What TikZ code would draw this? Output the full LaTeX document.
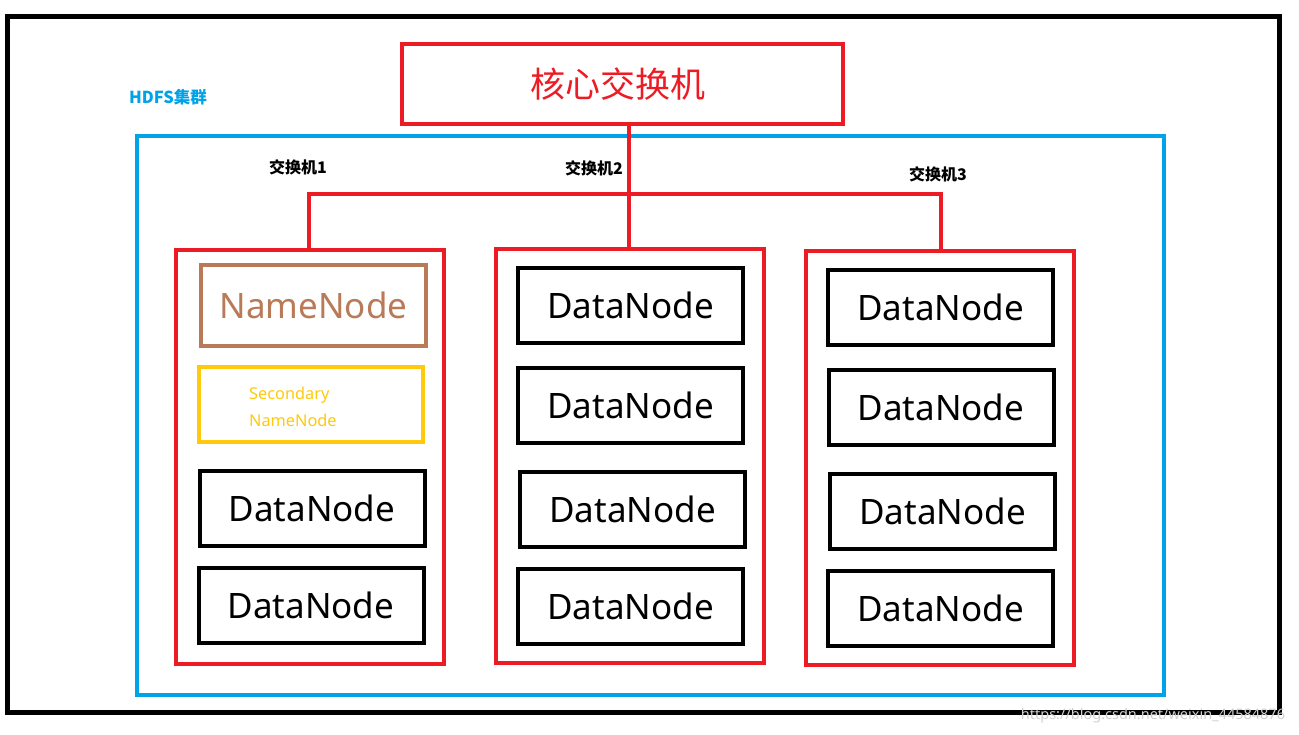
\documentclass[tikz,border=0pt]{standalone}
\usepackage{fontspec}
\setmainfont{Noto Sans}
\newfontfamily\cjk{Noto Sans CJK SC}
\definecolor{pred}{HTML}{ED1C24}
\definecolor{pblue}{HTML}{00A2E8}
\definecolor{pbrown}{HTML}{B97A57}
\definecolor{pyellow}{HTML}{FFC90E}
\tikzset{
  box/.style={draw, line width=4pt, inner sep=0pt, fill=white},
  grp/.style={box, draw=pred, minimum width=268pt, minimum height=414pt},
  dn/.style={box, draw=black, minimum width=225pt, minimum height=75pt, font=\fontsize{35}{40}\selectfont},
  swlabel/.style={font=\cjk\bfseries\fontsize{16}{19}\selectfont, inner sep=0pt},
  link/.style={draw=pred, line width=4pt},
}
\begin{document}
\begin{tikzpicture}[x=1pt,y=-1pt]
\useasboundingbox (0,0) rectangle (1299,734);
\fill[white] (0,0) rectangle (1299,734);
% outer frame
\node[box, draw=black, line width=5pt, fill=none, minimum width=1272pt, minimum height=696pt] (outer) at (643.5,364.5) {};
% cluster
\node[box, draw=pblue, fill=none, minimum width=1027pt, minimum height=559pt] (cluster) at (650.5,415.5) {};
\node[font=\cjk\bfseries\fontsize{16.5}{19}\selectfont, text=pblue, inner sep=0pt] (hdfs) at (168,97) {HDFS集群};
% core switch
\node[box, draw=pred, minimum width=441pt, minimum height=80pt, text=pred, font=\cjk\fontsize{35}{40}\selectfont, text width=441pt, align=center, xshift=0pt] (core) at (622.5,84) {\hspace*{-10pt}核心交换机};
% groups
\node[grp] (g1) at (310,457) {};
\node[grp] (g2) at (630,456) {};
\node[grp] (g3) at (940,457.5) {};
% switch labels
\node[swlabel] (sw1) at (298,167) {交换机1};
\node[swlabel] (sw2) at (594,168) {交换机2};
\node[swlabel] (sw3) at (938,174) {交换机3};
% connectors
\coordinate (t1) at (309,194);
\coordinate (t2) at (629,194);
\coordinate (t3) at (941,194);
\draw[link] (core.south -| t2) -- (g2.north -| t2);
\draw[link] (g1.north -| t1) -- (t1) -- (t3) -- (g3.north -| t3);
% left group
\node[box, draw=pbrown, minimum width=225pt, minimum height=81pt, text=pbrown, font=\fontsize{35}{40}\selectfont] (nn) at (313.5,305.5) {NameNode};
\node[box, draw=pyellow, minimum width=224pt, minimum height=75pt] (snn) at (311,404.5) {};
\node[text=pyellow, font=\fontsize{16.3}{27}\selectfont, align=left, anchor=west, inner sep=0pt] (snnt) at (249,407) {Secondary\\NameNode};
\node[dn] (d11) at (312,508) {DataNode};
\node[dn] (d12) at (311,605) {DataNode};
% middle group
\node[dn] (d21) at (630.5,305) {DataNode};
\node[dn] (d22) at (630.5,405.5) {DataNode};
\node[dn] (d23) at (632.5,509.5) {DataNode};
\node[dn] (d24) at (630.5,606) {DataNode};
% right group
\node[dn] (d31) at (940.5,307.5) {DataNode};
\node[dn] (d32) at (941,407.5) {DataNode};
\node[dn] (d33) at (942.5,511.5) {DataNode};
\node[dn] (d34) at (940.5,608.5) {DataNode};
% watermark
\node[text=black!18, font=\fontsize{14.5}{18}\selectfont, inner sep=0pt] (wm) at (1153,716) {https://blog.csdn.net/weixin\_44584876};
\end{tikzpicture}
\end{document}
